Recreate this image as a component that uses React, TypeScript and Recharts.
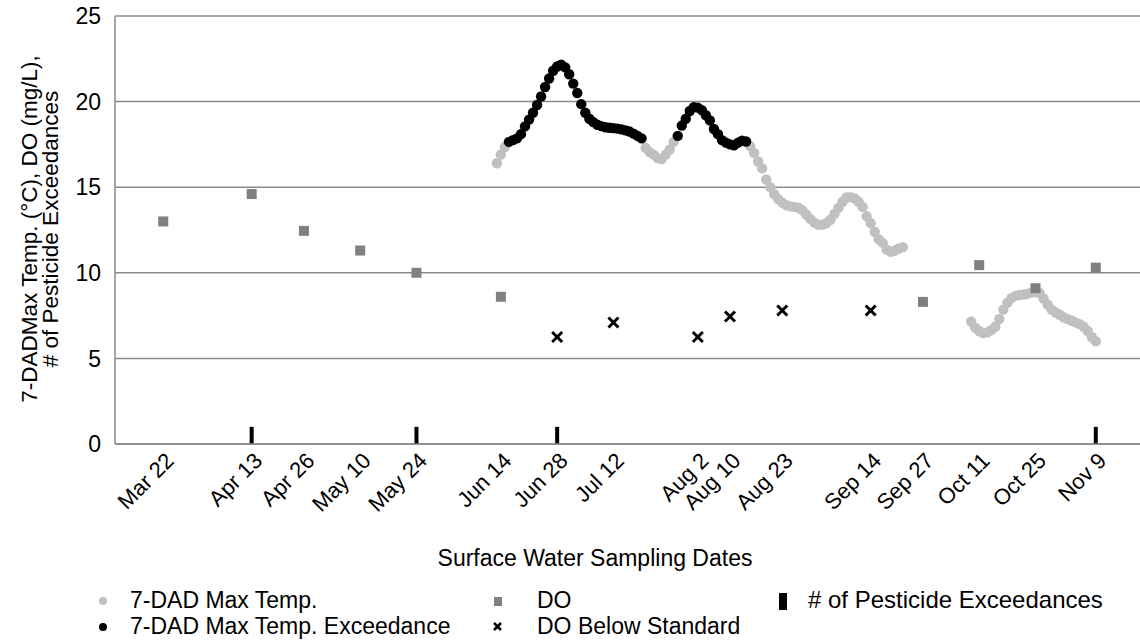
import React from 'react';
import { ComposedChart, Bar, Scatter, XAxis, YAxis, CartesianGrid } from 'recharts';

const MONTHS = ['Jan', 'Feb', 'Mar', 'Apr', 'May', 'Jun', 'Jul', 'Aug', 'Sep', 'Oct', 'Nov', 'Dec'];

// days counted from Mar 22
const dayOf = (label: string) => {
  const [m, d] = label.split(' ');
  return Math.round((Date.UTC(2021, MONTHS.indexOf(m), Number(d)) - Date.UTC(2021, 2, 22)) / 86400000);
};

const sampleDates = ['Mar 22', 'Apr 13', 'Apr 26', 'May 10', 'May 24', 'Jun 14', 'Jun 28', 'Jul 12', 'Aug 2', 'Aug 10', 'Aug 23', 'Sep 14', 'Sep 27', 'Oct 11', 'Oct 25', 'Nov 9'];

const doDates = ['Mar 22', 'Apr 13', 'Apr 26', 'May 10', 'May 24', 'Jun 14', 'Sep 27', 'Oct 11', 'Oct 25', 'Nov 9'];
const doValues = [13.0, 14.6, 12.45, 11.3, 10.0, 8.6, 8.3, 10.45, 9.1, 10.3];

const doLowDates = ['Jun 28', 'Jul 12', 'Aug 2', 'Aug 10', 'Aug 23', 'Sep 14'];
const doLowValues = [6.25, 7.1, 6.25, 7.45, 7.8, 7.8];

const pesticideDates = ['Apr 13', 'May 24', 'Jun 28', 'Nov 9'];
const pesticideCounts = [1, 1, 1, 1];

// daily 7-DAD max temperature, first run starts Jun 13
const tempRun1Start = 'Jun 13';
const tempRun1 = [
  16.4, 16.9, 17.35, 17.65, 17.75, 17.85, 18.1, 18.55, 18.95, 19.35,
  19.8, 20.3, 20.85, 21.35, 21.8, 22.05, 22.15, 22.0, 21.6, 21.05,
  20.5, 19.85, 19.35, 19.0, 18.8, 18.65, 18.57, 18.5, 18.47, 18.45,
  18.42, 18.38, 18.32, 18.25, 18.13, 18.0, 17.85, 17.3, 17.05, 16.9,
  16.7, 16.65, 16.9, 17.2, 17.65, 18.0, 18.6, 19.0, 19.45, 19.68,
  19.65, 19.5, 19.2, 18.9, 18.4, 18.1, 17.75, 17.6, 17.5, 17.45,
  17.6, 17.72, 17.67, 17.4, 17.0, 16.5, 16.1, 15.45, 15.0, 14.6,
  14.3, 14.1, 13.95, 13.88, 13.85, 13.8, 13.65, 13.4, 13.15, 12.92,
  12.8, 12.82, 12.9, 13.1, 13.45, 13.8, 14.15, 14.4, 14.42, 14.35,
  14.15, 13.85, 13.3, 12.9, 12.4, 11.95, 11.75, 11.35, 11.22, 11.3,
  11.42, 11.5,
];
const tempRun2Start = 'Oct 9';
const tempRun2 = [
  7.15, 6.8, 6.6, 6.48, 6.52, 6.65, 6.85, 7.3, 7.85, 8.25,
  8.52, 8.65, 8.7, 8.73, 8.77, 8.85, 8.87, 8.82, 8.5, 8.15,
  7.85, 7.68, 7.55, 7.4, 7.3, 7.2, 7.1, 7.0, 6.85, 6.6,
  6.25, 6.0,
];
const exceedWindows = [['Jun 16', 'Jul 19'], ['Jul 28', 'Aug 14']];

const tempPoints = [
  ...tempRun1.map((v, i) => ({ day: dayOf(tempRun1Start) + i, v })),
  ...tempRun2.map((v, i) => ({ day: dayOf(tempRun2Start) + i, v })),
];
const isExceed = (day: number) => exceedWindows.some(([a, b]) => day >= dayOf(a) && day <= dayOf(b));
const tempNormal = tempPoints.filter((p) => !isExceed(p.day));
const tempExceed = tempPoints.filter((p) => isExceed(p.day));

const doData = doDates.map((d, i) => ({ day: dayOf(d), v: doValues[i] }));
const doLowData = doLowDates.map((d, i) => ({ day: dayOf(d), v: doLowValues[i] }));
const pesticideData = pesticideDates.map((d, i) => ({ day: dayOf(d), v: pesticideCounts[i] }));

const FONT = '"Liberation Sans", Arial, sans-serif';
const LIGHT = '#c0c0c0';
const MID = '#808080';
const GRID = '#8a8a8a';

const DateTick = (props: any) => {
  const { x, y, payload } = props;
  const ax = x + 12;
  const ay = y + 10;
  const idx = sampleDates.findIndex((d) => dayOf(d) === payload.value);
  return (
    <text x={ax} y={ay} transform={`rotate(-45 ${ax} ${ay})`} textAnchor="end" fontSize={22} fill="#000" fontFamily={FONT}>
      {idx >= 0 ? sampleDates[idx] : ''}
    </text>
  );
};

const YTitle = () => (
  <g fontFamily={FONT} fontSize={22.5} fill="#000">
    <text x={37} y={229} transform="rotate(-90 37 229)" textAnchor="middle">7-DADMax Temp. (°C), DO (mg/L),</text>
    <text x={58} y={229} transform="rotate(-90 58 229)" textAnchor="middle"># of Pesticide Exceedances</text>
  </g>
);

const XTitle = () => (
  <text x={595} y={566} textAnchor="middle" fontFamily={FONT} fontSize={23} fill="#000">
    Surface Water Sampling Dates
  </text>
);

const legendText: React.CSSProperties = { position: 'absolute', fontSize: 23, lineHeight: '26px', whiteSpace: 'nowrap' };

export default function App() {
  return (
    <div style={{ position: 'relative', width: 1140, height: 642, fontFamily: FONT, background: '#fff' }}>
      <style>{'body{margin:0}'}</style>
      <ComposedChart width={1140} height={642} data={pesticideData} margin={{ top: 16, right: 0, bottom: 0, left: 0 }}>
        <CartesianGrid vertical={false} stroke={GRID} strokeWidth={1.5} />
        <XAxis
          dataKey="day"
          type="number"
          domain={[-12, 243]}
          ticks={sampleDates.map(dayOf)}
          tick={<DateTick />}
          tickLine={false}
          axisLine={{ stroke: GRID, strokeWidth: 1.5 }}
          height={198}
          interval={0}
          allowDataOverflow
          label={<XTitle />}
        />
        <YAxis
          dataKey="v"
          type="number"
          domain={[0, 25]}
          ticks={[0, 5, 10, 15, 20, 25]}
          width={115}
          tickLine={false}
          tickSize={0}
          tickMargin={14}
          axisLine={{ stroke: GRID, strokeWidth: 1.5 }}
          tick={{ fontSize: 23, fill: '#000', fontFamily: FONT }}
          label={<YTitle />}
        />
        <Bar dataKey="v" barSize={4} fill="#000" isAnimationActive={false} />
        <Scatter data={tempNormal} isAnimationActive={false} shape={(p: any) => <circle cx={p.cx} cy={p.cy} r={5.2} fill={LIGHT} />} />
        <Scatter data={tempExceed} isAnimationActive={false} shape={(p: any) => <circle cx={p.cx} cy={p.cy} r={5.2} fill="#000" />} />
        <Scatter data={doData} isAnimationActive={false} shape={(p: any) => <rect x={p.cx - 5} y={p.cy - 5} width={10} height={10} fill={MID} />} />
        <Scatter
          data={doLowData}
          isAnimationActive={false}
          shape={(p: any) => (
            <g stroke="#000" strokeWidth={3}>
              <line x1={p.cx - 5} y1={p.cy - 5} x2={p.cx + 5} y2={p.cy + 5} />
              <line x1={p.cx - 5} y1={p.cy + 5} x2={p.cx + 5} y2={p.cy - 5} />
            </g>
          )}
        />
      </ComposedChart>

      {/* legend */}
      <svg width={1140} height={60} style={{ position: 'absolute', left: 0, top: 585 }}>
        <circle cx={103} cy={16} r={4} fill={LIGHT} />
        <circle cx={103} cy={42} r={4} fill="#000" />
        <rect x={494} y={12} width={8} height={9} fill={MID} />
        <g stroke="#000" strokeWidth={2.5}>
          <line x1={494} y1={38} x2={501} y2={45} />
          <line x1={494} y1={45} x2={501} y2={38} />
        </g>
        <rect x={779} y={8} width={8} height={17} fill="#000" />
      </svg>
      <div style={{ ...legendText, left: 130, top: 587 }}>7-DAD Max Temp.</div>
      <div style={{ ...legendText, left: 130, top: 613 }}>7-DAD Max Temp. Exceedance</div>
      <div style={{ ...legendText, left: 537, top: 587 }}>DO</div>
      <div style={{ ...legendText, left: 537, top: 613 }}>DO Below Standard</div>
      <div style={{ ...legendText, left: 808, top: 587, fontSize: 24 }}># of Pesticide Exceedances</div>
    </div>
  );
}
